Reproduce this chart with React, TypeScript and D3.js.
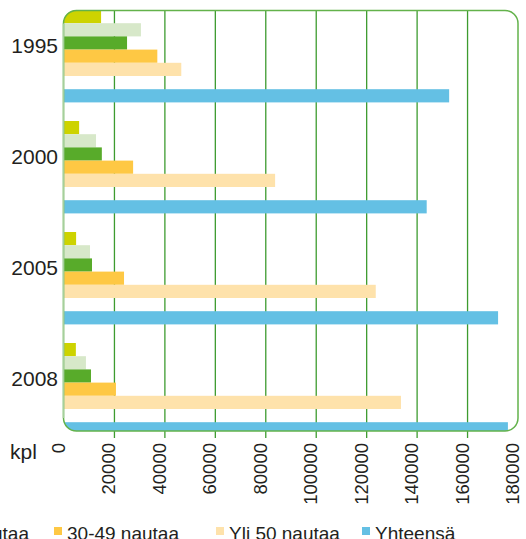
import React from "react";
import * as d3 from "d3";

// Farm counts by herd size (kpl)
const years = ["1995", "2000", "2005", "2008"];
const seriesNames = [
  "1-9 nautaa",
  "10-19 nautaa",
  "20-29 nautaa",
  "30-49 nautaa",
  "Yli 50 nautaa",
  "Yhteensä",
];
const herd1to9 = [14700, 6000, 4800, 4700];
const herd10to19 = [30500, 12700, 10300, 8700];
const herd20to29 = [25000, 15000, 11100, 10700];
const herd30to49 = [37000, 27400, 23800, 20600];
const herdOver50 = [46500, 83700, 123600, 133600];
const totals = [152700, 143800, 172100, 176000];
const tickValues = [0, 20000, 40000, 60000, 80000, 100000, 120000, 140000, 160000, 180000];

const seriesValues = [herd1to9, herd10to19, herd20to29, herd30to49, herdOver50, totals];
const colors = ["#cdd300", "#d7e8c9", "#58ab2a", "#fec844", "#fee2ab", "#64c0e4"];
// one empty slot separates the herd-size bars from the total bar
const slots = ["s0", "s1", "s2", "s3", "s4", "gap", "s5"];

const W = 526;
const H = 539;
const frame = { left: 63.5, top: 10.5, right: 518, bottom: 431, r: 13 };

export default function App() {
  const x = d3.scaleLinear().domain([0, 180000]).range([64, 518]);
  const y0 = d3
    .scaleBand<string>()
    .domain(years)
    .range([10, 435.4])
    .paddingInner(0.1676)
    .paddingOuter(0);
  const y1 = d3.scaleBand<string>().domain(slots).range([0, y0.bandwidth()]);
  const slotOf = (i: number) => (i === 5 ? "s5" : `s${i}`);

  const font = "'Liberation Sans', Arial, Helvetica, sans-serif";
  const textColor = "#231f20";

  // legend row starts left of the page edge; only the last items fit
  const legendX = [-420, -250, -96, 54, 216, 362];
  const legendItems = seriesNames
    .map((name, i) => ({ name, i }))
    .filter((d) => legendX[d.i] > -150);

  return (
    <svg
      width={W}
      height={H}
      style={{ position: "absolute", left: 0, top: 0, background: "#fff" }}
      fontFamily={font}
    >
      <defs>
        <clipPath id="plot-clip">
          <rect
            x={frame.left}
            y={frame.top - 0.5}
            width={frame.right - frame.left}
            height={frame.bottom - frame.top + 0.5}
            rx={frame.r}
            ry={frame.r}
          />
        </clipPath>
      </defs>

      {/* vertical gridlines with tick stubs below the frame */}
      {tickValues
        .filter((v) => v > 0 && v < 180000)
        .map((v) => (
          <line
            key={`g${v}`}
            x1={x(v)}
            x2={x(v)}
            y1={10}
            y2={438}
            stroke="#3d9b2f"
            strokeWidth={1.3}
          />
        ))}

      {/* bars */}
      <g clipPath="url(#plot-clip)">
        {years.map((yr, yi) => (
          <g key={yr} transform={`translate(0,${y0(yr)})`}>
            {seriesValues.map((vals, si) => (
              <rect
                key={si}
                x={x(0)}
                y={y1(slotOf(si))}
                width={x(vals[yi]) - x(0)}
                height={y1.bandwidth()}
                fill={colors[si]}
              />
            ))}
          </g>
        ))}
      </g>

      {/* rounded frame */}
      <rect
        x={frame.left}
        y={frame.top}
        width={frame.right - frame.left}
        height={frame.bottom - frame.top}
        rx={frame.r}
        ry={frame.r}
        fill="none"
        stroke="#63b24b"
        strokeWidth={1.5}
      />
      <line
        x1={frame.left}
        x2={frame.left}
        y1={frame.top + frame.r}
        y2={frame.bottom - frame.r}
        stroke="#a6cf9c"
        strokeWidth={1.6}
      />

      {/* year labels */}
      {years.map((yr) => (
        <text
          key={`l${yr}`}
          x={58}
          y={(y0(yr) ?? 0) + 43}
          textAnchor="end"
          fontSize={21}
          fill={textColor}
        >
          {yr}
        </text>
      ))}

      {/* value axis labels */}
      {tickValues.map((v) => (
        <text
          key={`t${v}`}
          transform={`translate(${x(v) + 1},443) rotate(-90)`}
          textAnchor="end"
          fontSize={18.5}
          fill={textColor}
        >
          {v}
        </text>
      ))}
      <text x={10} y={459} fontSize={21} fill={textColor}>
        kpl
      </text>

      {/* legend */}
      {legendItems.map(({ name, i }) => (
        <g key={name} transform={`translate(${legendX[i]},0)`}>
          <rect x={0} y={527} width={8} height={8} fill={colors[i]} />
          <text x={13} y={540} fontSize={19} fill={textColor}>
            {name}
          </text>
        </g>
      ))}
    </svg>
  );
}
